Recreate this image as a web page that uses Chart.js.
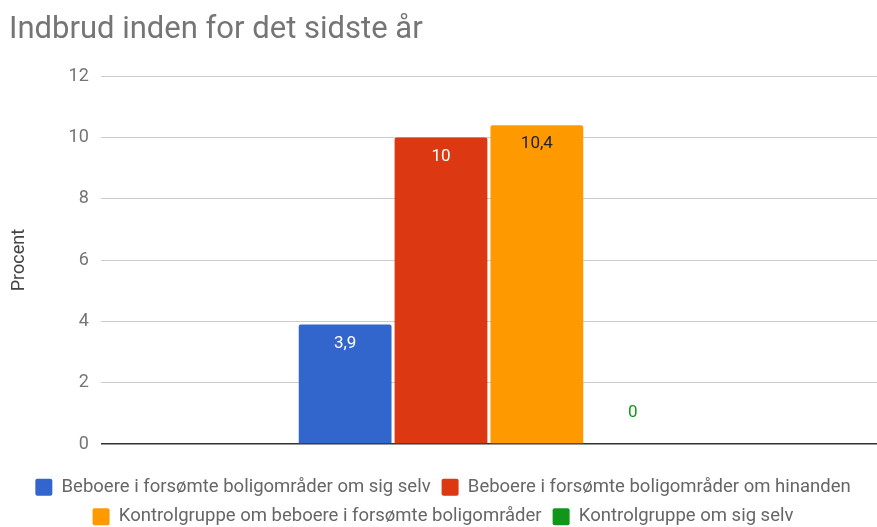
<!DOCTYPE html>
<html>
<head>
<meta charset="utf-8">
<script src="https://cdn.jsdelivr.net/npm/chart.js"></script>
<style>
  html, body { margin: 0; padding: 0; background: #fff; overflow: hidden; }
  #wrap { width: 877px; height: 527px; }
</style>
</head>
<body>
<div id="wrap"><canvas id="chart"></canvas></div>
<script>
const categories = ['']
const seriesNames = [
  'Beboere i forsømte boligområder om sig selv',
  'Beboere i forsømte boligområder om hinanden',
  'Kontrolgruppe om beboere i forsømte boligområder',
  'Kontrolgruppe om sig selv'
]
const seriesValues = [[3.9], [10], [10.4], [0]]
const seriesColors = ['#3366cc', '#dc3912', '#ff9900', '#109618']
const labelColors = ['#ffffff', '#ffffff', '#222222', '#109618']
const yTicks = [0, 2, 4, 6, 8, 10, 12]

const FONT = 'Roboto, "Noto Sans", sans-serif'

// value labels inside the bar tops, or above the baseline for a zero bar
const valueLabels = {
  id: 'valueLabels',
  afterDatasetsDraw(chart) {
    const ctx = chart.ctx
    ctx.save()
    ctx.font = '17px ' + FONT
    ctx.textAlign = 'center'
    ctx.textBaseline = 'middle'
    chart.data.datasets.forEach((ds, i) => {
      chart.getDatasetMeta(i).data.forEach((bar, j) => {
        const v = ds.data[j]
        ctx.fillStyle = labelColors[i]
        const y = v === 0 ? bar.y - 31 : bar.y + 19
        ctx.fillText(String(v).replace('.', ','), bar.x, y)
      })
    })
    ctx.restore()
  }
}

new Chart(document.getElementById('chart'), {
  type: 'bar',
  data: {
    labels: categories,
    datasets: seriesNames.map((name, i) => ({
      label: name,
      data: seriesValues[i],
      backgroundColor: seriesColors[i],
      borderRadius: { topLeft: 2, topRight: 2 },
      borderSkipped: 'bottom',
      barPercentage: 0.968,
      categoryPercentage: 0.494
    }))
  },
  options: {
    responsive: true,
    maintainAspectRatio: false,
    animation: false,
    layout: { padding: { left: 9, right: 0, top: 0, bottom: -9 } },
    plugins: {
      title: {
        display: true,
        text: 'Indbrud inden for det sidste år',
        align: 'start',
        color: '#757575',
        font: { family: FONT, size: 31, weight: 'normal' },
        padding: { top: 12, bottom: 27 }
      },
      legend: {
        position: 'bottom',
        labels: {
          color: '#666666',
          font: { family: FONT, size: 18.5 },
          boxWidth: 17,
          boxHeight: 17,
          padding: 11,
          useBorderRadius: true,
          borderRadius: 2
        }
      },
      tooltip: { enabled: false }
    },
    scales: {
      x: {
        display: true,
        grid: { display: false },
        border: { display: false },
        ticks: { display: false },
        afterFit: axis => { axis.height = 23 }
      },
      y: {
        min: 0,
        max: 12,
        afterBuildTicks: axis => { axis.ticks = yTicks.map(v => ({ value: v })) },
        ticks: {
          color: '#757575',
          font: { family: FONT, size: 18 },
          padding: 12
        },
        grid: {
          color: c => c.tick && c.tick.value === 0 ? '#333333' : '#cccccc',
          lineWidth: c => c.tick && c.tick.value === 0 ? 1.5 : 1,
          drawTicks: false
        },
        border: { display: false },
        title: {
          display: true,
          text: 'Procent',
          color: '#444444',
          font: { family: FONT, size: 18 },
          padding: { top: 0, bottom: 26 }
        }
      }
    }
  },
  plugins: [valueLabels]
})
</script>
</body>
</html>
